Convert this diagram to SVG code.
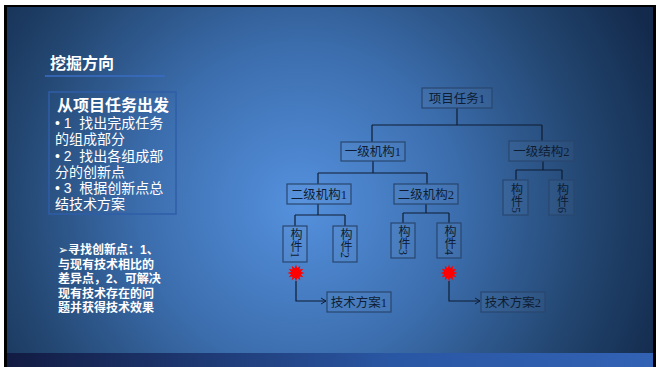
<svg xmlns="http://www.w3.org/2000/svg" width="656" height="367" viewBox="0 0 656 367">
<defs>
<radialGradient id="bg" gradientUnits="userSpaceOnUse" cx="300" cy="205" r="390">
<stop offset="0" stop-color="#5591de"/>
<stop offset="0.4" stop-color="#3c6eae"/>
<stop offset="0.75" stop-color="#22456f"/>
<stop offset="1" stop-color="#132a4c"/>
</radialGradient>
<linearGradient id="bar" x1="0" y1="0" x2="1" y2="0">
<stop offset="0" stop-color="#121b42"/>
<stop offset="0.6" stop-color="#2a57a4"/>
<stop offset="1" stop-color="#3262b4"/>
</linearGradient>
<marker id="arr" markerWidth="8" markerHeight="8" refX="6" refY="4" orient="auto" markerUnits="userSpaceOnUse">
<path d="M1,1 L6,4 L1,7" fill="none" stroke="#0e1d33" stroke-width="1"/>
</marker>
<polygon id="star" fill="#ff0000" points="0,-8.5 1.29,-4.83 4.25,-7.36 3.54,-3.54 7.36,-4.25 4.83,-1.29 8.5,0 4.83,1.29 7.36,4.25 3.54,3.54 4.25,7.36 1.29,4.83 0,8.5 -1.29,4.83 -4.25,7.36 -3.54,3.54 -7.36,4.25 -4.83,1.29 -8.5,0 -4.83,-1.29 -7.36,-4.25 -3.54,-3.54 -4.25,-7.36 -1.29,-4.83"/>
</defs>
<style>
.box{fill:#ffffff;fill-opacity:0.03;stroke:#28476f;stroke-width:1.2}
.lbl{font-family:"Liberation Serif","Noto Sans CJK SC",serif;font-size:12.5px;fill:#0e1d33;text-anchor:middle}
.vl{font-family:"Liberation Serif","Noto Sans CJK SC",serif;font-size:12px;fill:#0e1d33;writing-mode:vertical-rl}
.wire{fill:none;stroke:#0e1d33;stroke-width:1.2}
.lt{font-family:"Liberation Sans","Noto Sans CJK SC","DejaVu Sans",sans-serif;fill:#ffffff;white-space:pre}
</style>
<rect x="0" y="0" width="656" height="367" fill="#ffffff"/>
<rect x="4" y="5" width="652" height="362" fill="#000000"/>
<rect x="7" y="7" width="646" height="360" fill="url(#bg)"/>
<rect x="7" y="353" width="646" height="14" fill="url(#bar)"/>

<g id="heading">
<text class="lt" x="50" y="69" font-size="16" font-weight="bold">挖掘方向</text>
<line x1="45" y1="76" x2="165" y2="76" stroke="#3a6cc4" stroke-width="1.5"/>
</g>
<g id="method-box">
<rect x="49" y="92" width="127" height="122" fill="none" stroke="#2f5ea8" stroke-width="1.5"/>
<text class="lt" x="57" y="111" font-size="16" font-weight="bold">从项目任务出发</text>
<text class="lt" x="55" y="128" font-size="14">• 1  找出完成任务</text>
<text class="lt" x="55" y="144" font-size="14">的组成部分</text>
<text class="lt" x="55" y="161" font-size="14">• 2  找出各组成部</text>
<text class="lt" x="55" y="177" font-size="14">分的创新点</text>
<text class="lt" x="55" y="193" font-size="14">• 3  根据创新点总</text>
<text class="lt" x="55" y="209" font-size="14">结技术方案</text>
</g>
<g id="note">
<text class="lt" x="58" y="254" font-size="12" font-weight="bold">➢寻找创新点：1、</text>
<text class="lt" x="58" y="268.5" font-size="12" font-weight="bold">与现有技术相比的</text>
<text class="lt" x="58" y="283" font-size="12" font-weight="bold">差异点，2、可解决</text>
<text class="lt" x="58" y="297.5" font-size="12" font-weight="bold">现有技术存在的问</text>
<text class="lt" x="58" y="312" font-size="12" font-weight="bold">题并获得技术效果</text>
</g>

<g id="connectors">
<path class="wire" d="M457,108 V125 M372,125 H542 M372,125 V142 M542,125 V141"/>
<path class="wire" d="M373,161 V173 M318,173 H427 M318,173 V184 M427,173 V184"/>
<path class="wire" d="M543,161 V170 M516,170 H562 M516,170 V180 M562,170 V180"/>
<path class="wire" d="M318,204 V215 M295,215 H345 M295,215 V226 M345,215 V226"/>
<path class="wire" d="M426,204 V213 M403,213 H449 M403,213 V223 M449,213 V223"/>
<path class="wire" d="M296,281 V301 H326" marker-end="url(#arr)"/>
<path class="wire" d="M449,281 V301 H480" marker-end="url(#arr)"/>
</g>

<g id="n-root"><rect class="box" x="422" y="88" width="70" height="20"/><text class="lbl" x="457" y="102.5">项目任务1</text></g>
<g id="n-l1a"><rect class="box" x="341" y="142" width="64" height="19"/><text class="lbl" x="373" y="156">一级机构1</text></g>
<g id="n-l1b"><rect class="box" x="509" y="141" width="65" height="20"/><text class="lbl" x="541.5" y="155.5">一级结构2</text></g>
<g id="n-l2a"><rect class="box" x="287" y="184" width="64" height="20"/><text class="lbl" x="319" y="198.5">二级机构1</text></g>
<g id="n-l2b"><rect class="box" x="394" y="184" width="64" height="20"/><text class="lbl" x="426" y="198.5">二级机构2</text></g>
<g id="n-p1"><rect class="box" x="283" y="226" width="24" height="36"/><text class="vl" x="295" y="228">构件1</text></g>
<g id="n-p2"><rect class="box" x="333" y="226" width="24" height="36"/><text class="vl" x="345" y="228">构件2</text></g>
<g id="n-p3"><rect class="box" x="391" y="223" width="24" height="35"/><text class="vl" x="403" y="225">构件3</text></g>
<g id="n-p4"><rect class="box" x="437" y="223" width="24" height="35"/><text class="vl" x="449" y="225">构件4</text></g>
<g id="n-p5"><rect class="box" x="503" y="180" width="25" height="35"/><text class="vl" x="515.5" y="183">构件5</text></g>
<g id="n-p6"><rect class="box" x="549" y="180" width="25" height="35"/><text class="vl" x="561.5" y="183">构件6</text></g>
<g id="star1"><use href="#star" x="296" y="273"/></g>
<g id="star2"><use href="#star" x="449" y="273"/></g>
<g id="n-s1"><rect class="box" x="327" y="292" width="64" height="20"/><text class="lbl" x="359" y="306.5">技术方案1</text></g>
<g id="n-s2"><rect class="box" x="481" y="292" width="64" height="20"/><text class="lbl" x="513" y="306.5">技术方案2</text></g>
</svg>
